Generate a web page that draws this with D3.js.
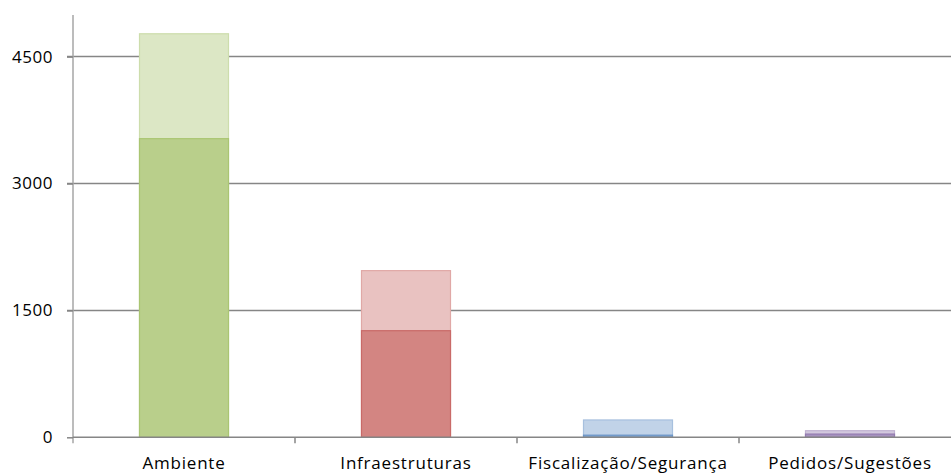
<!DOCTYPE html>
<html><head><meta charset="utf-8">
<script src="https://cdn.jsdelivr.net/npm/d3@7"></script>
<style>body{margin:0;background:#fff}svg{display:block}text{font-family:"Open Sans",sans-serif;fill:#000}</style>
</head><body><svg id="c" width="951" height="473"></svg>
<script>
const categories = ["Ambiente","Infraestruturas","Fiscalização/Segurança","Pedidos/Sugestões"];
const totals = [4770, 1970, 205, 78];
const resolved = [3530, 1260, 25, 38];
const yTicks = [0, 1500, 3000, 4500];
const baseColors = ["#9BBB59","#C0504D","#4F81BD","#8064A2"];

(function(){
const svg = d3.select("#c");
const left = 73, right = 961, plotTop = 15, zeroY = 437.3;
const y = d3.scaleLinear().domain([0, 1500]).range([zeroY, zeroY - 126.9]);
const x = d3.scaleBand().domain(categories).range([left, right]).paddingInner(0).paddingOuter(0);
const bw = 89;

function mix(c, a){ const r=d3.rgb(c); return d3.rgb(255-(255-r.r)*a,255-(255-r.g)*a,255-(255-r.b)*a).formatHex(); }

// gridlines
svg.append("g").selectAll("line").data(yTicks.filter(d=>d>0)).join("line")
  .attr("x1", left-6).attr("x2", 951).attr("y1", d=>y(d)).attr("y2", d=>y(d))
  .attr("stroke", "#868686").attr("stroke-width", 1.5);

// light bars (totals)
svg.append("g").selectAll("rect").data(categories).join("rect")
  .attr("x", d=>x(d)+x.bandwidth()/2-bw/2).attr("width", bw)
  .attr("y", (d,i)=>y(totals[i])).attr("height", (d,i)=>zeroY-y(totals[i]))
  .attr("fill", (d,i)=>mix(baseColors[i],0.35)).attr("stroke", (d,i)=>mix(baseColors[i],0.5)).attr("stroke-width",1.2);
// inner bars
svg.append("g").selectAll("rect").data(categories).join("rect")
  .attr("x", d=>x(d)+x.bandwidth()/2-bw/2).attr("width", bw)
  .attr("y", (d,i)=>y(resolved[i])).attr("height", (d,i)=>zeroY-y(resolved[i]))
  .attr("fill", (d,i)=>mix(baseColors[i],0.7)).attr("stroke", (d,i)=>mix(baseColors[i],0.85)).attr("stroke-width",1.2);

// y axis
const ya = svg.append("g").attr("transform", `translate(${left},0)`)
  .call(d3.axisLeft(y).tickValues(yTicks).tickSize(6).tickPadding(14).tickFormat(d3.format("d")));
ya.select(".domain").attr("d", `M0,${plotTop}V${zeroY+6}`).attr("stroke","#a6a6a6").attr("stroke-width",1.5);
ya.selectAll(".tick line").attr("stroke","#868686").attr("stroke-width",1.5);
ya.selectAll(".tick text").attr("font-size",17).attr("font-family","Open Sans, sans-serif").attr("fill","#222").attr("letter-spacing","0.5");

// x axis
const xa = svg.append("g").attr("transform", `translate(0,${zeroY})`)
  .call(d3.axisBottom(x).tickSize(0).tickPadding(0));
xa.select(".domain").attr("d", `M${left},0H951`).attr("stroke","#868686").attr("stroke-width",1.5);
xa.selectAll(".tick text").attr("font-size",17).attr("font-family","Open Sans, sans-serif").attr("fill","#111")
  .attr("letter-spacing","0.8").attr("y",32).attr("dy",0);
// category separator ticks
svg.append("g").selectAll("line").data(categories.slice(1)).join("line")
  .attr("x1", d=>x(d)).attr("x2", d=>x(d)).attr("y1", zeroY).attr("y2", zeroY+6)
  .attr("stroke","#868686").attr("stroke-width",1.5);
})();
</script></body></html>
